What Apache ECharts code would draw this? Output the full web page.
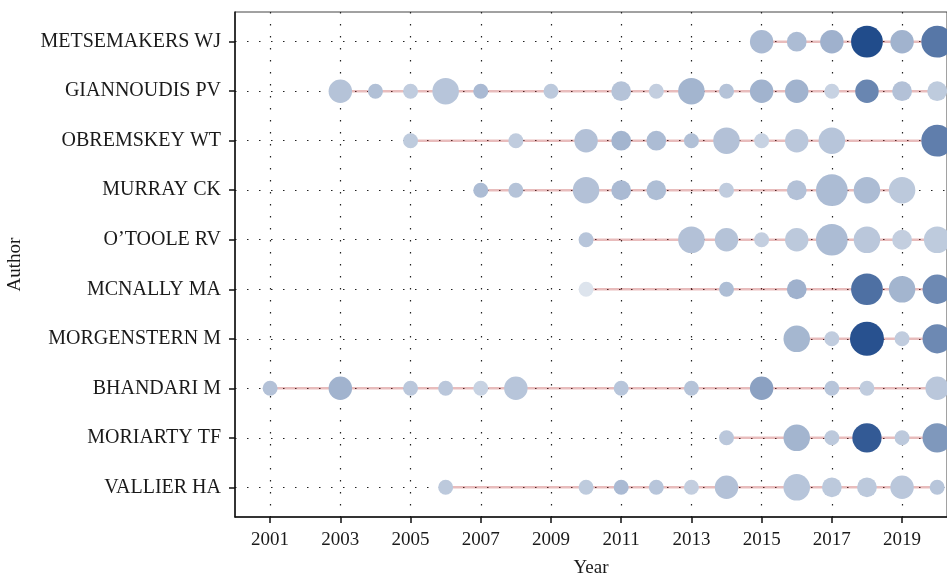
<!DOCTYPE html>
<html>
<head>
<meta charset="utf-8">
<script src="https://cdn.jsdelivr.net/npm/echarts@6/dist/echarts.min.js"></script>
<style>
    html, body { margin: 0; padding: 0; background: #fff; }
    #chartId { width: 947px; height: 576px; }
</style>
</head>
<body>
<div id="chartId"></div>
<script>
// authors, top to bottom
const authors = [
    "METSEMAKERS WJ",
    "GIANNOUDIS PV",
    "OBREMSKEY WT",
    "MURRAY CK",
    "O\u2019TOOLE RV",
    "MCNALLY MA",
    "MORGENSTERN M",
    "BHANDARI M",
    "MORIARTY TF",
    "VALLIER HA"
];

const yearTicks = [2001, 2003, 2005, 2007, 2009, 2011, 2013, 2015, 2017, 2019];

// publication years per author
const years = [
    [2015, 2016, 2017, 2018, 2019, 2020],
    [2003, 2004, 2005, 2006, 2007, 2009, 2011, 2012, 2013, 2014, 2015, 2016, 2017, 2018, 2019, 2020],
    [2005, 2008, 2010, 2011, 2012, 2013, 2014, 2015, 2016, 2017, 2020],
    [2007, 2008, 2010, 2011, 2012, 2014, 2016, 2017, 2018, 2019],
    [2010, 2013, 2014, 2015, 2016, 2017, 2018, 2019, 2020],
    [2010, 2014, 2016, 2018, 2019, 2020],
    [2016, 2017, 2018, 2019, 2020],
    [2001, 2003, 2005, 2006, 2007, 2008, 2011, 2013, 2015, 2017, 2018, 2020],
    [2014, 2016, 2017, 2018, 2019, 2020],
    [2006, 2010, 2011, 2012, 2013, 2014, 2016, 2017, 2018, 2019, 2020]
];

// number of articles (point size)
const articles = [
    [3, 2, 3, 6, 3, 6],
    [3, 1, 1, 4, 1, 1, 2, 1, 4, 1, 3, 3, 1, 3, 2, 2],
    [1, 1, 3, 2, 2, 1, 4, 1, 3, 4, 6],
    [1, 1, 4, 2, 2, 1, 2, 6, 4, 4],
    [1, 4, 3, 1, 3, 6, 4, 2, 4],
    [1, 1, 2, 6, 4, 5],
    [4, 1, 7, 1, 5],
    [1, 3, 1, 1, 1, 3, 1, 1, 3, 1, 1, 3],
    [1, 4, 1, 5, 1, 5],
    [1, 1, 1, 1, 1, 3, 4, 2, 2, 3, 1]
];

// total citations per year (point colour)
const tcPerYear = [
    [38, 37, 43, 99, 42, 75],
    [33, 35, 28, 32, 38, 30, 33, 27, 41, 33, 42, 42, 25, 67, 34, 29],
    [29, 28, 34, 41, 37, 35, 34, 25, 31, 32, 71],
    [37, 33, 34, 38, 36, 28, 34, 37, 37, 30],
    [32, 34, 33, 27, 30, 37, 31, 27, 29],
    [15, 36, 43, 79, 41, 65],
    [40, 28, 96, 28, 65],
    [34, 42, 31, 31, 25, 32, 32, 33, 52, 32, 28, 31],
    [31, 41, 30, 91, 30, 57],
    [30, 29, 38, 32, 27, 34, 32, 30, 30, 31, 32]
];

const font = "'Liberation Serif', 'Times New Roman', serif";
const dots = [1.5, 10.5];
const rowTicks = authors.map(function(a, i){ return i; });

var chart = echarts.init(document.getElementById('chartId'));

let series = [];
let points = [];
authors.forEach(function(name, i){
    let ys = years[i];
    // segment from first to last year
    series.push({
        type: 'line',
        data: [[ys[0], i], [ys[ys.length - 1], i]],
        symbol: 'none',
        silent: true,
        z: 2,
        lineStyle: { color: 'rgba(178,34,34,0.3)', width: 2.5 }
    });
    ys.forEach(function(y, j){
        points.push([y, i, articles[i][j], tcPerYear[i][j]]);
    });
});
series.push({
    type: 'scatter',
    data: points,
    z: 3,
    symbolSize: function(v){ return 3.46 + 11.54 * Math.sqrt(v[2]); },
    itemStyle: { opacity: 1 }
});

var option = {
    animation: false,
    backgroundColor: '#fff',
    grid: {
        left: 235,
        right: 0,
        top: 12,
        bottom: 59,
        outerBoundsMode: 'none',
        containLabel: false,
        show: true,
        borderColor: '#444',
        borderWidth: 1
    },
    visualMap: {
        show: false,
        seriesIndex: series.length - 1,
        dimension: 3,
        min: 0,
        max: 100,
        inRange: { color: ['#ffffff', '#1f4a8a'] }
    },
    xAxis: {
        type: 'value',
        min: 2000,
        max: 2020.28,
        name: 'Year',
        nameLocation: 'middle',
        nameGap: 42,
        nameTextStyle: { fontFamily: font, fontSize: 19, color: '#1a1a1a' },
        axisLine: { onZero: false, lineStyle: { color: '#111', width: 1.5 } },
        axisTick: { show: true, length: 6, customValues: yearTicks, lineStyle: { color: '#111', width: 1.5 } },
        axisLabel: {
            customValues: yearTicks,
            formatter: function(v){ return String(v); },
            margin: 14,
            fontFamily: font,
            fontSize: 19,
            color: '#1a1a1a'
        },
        splitLine: { show: true, lineStyle: { color: '#222', type: dots, width: 1.2 } }
    },
    yAxis: {
        type: 'value',
        inverse: true,
        min: -0.6,
        max: 9.6,
        name: 'Author',
        nameLocation: 'middle',
        nameGap: 210,
        nameTextStyle: { fontFamily: font, fontSize: 19, color: '#1a1a1a' },
        axisLine: { show: true, onZero: false, lineStyle: { color: '#111', width: 1.5 } },
        axisTick: { show: true, length: 6, customValues: rowTicks, lineStyle: { color: '#111', width: 1.5 } },
        axisLabel: {
            customValues: rowTicks,
            formatter: function(v){ return authors[v] || ''; },
            margin: 14,
            fontFamily: font,
            fontSize: 20,
            color: '#1a1a1a'
        },
        splitLine: { show: true, lineStyle: { color: '#222', type: dots, width: 1.2 } }
    },
    series: series
};

chart.setOption(option);
</script>
</body>
</html>
